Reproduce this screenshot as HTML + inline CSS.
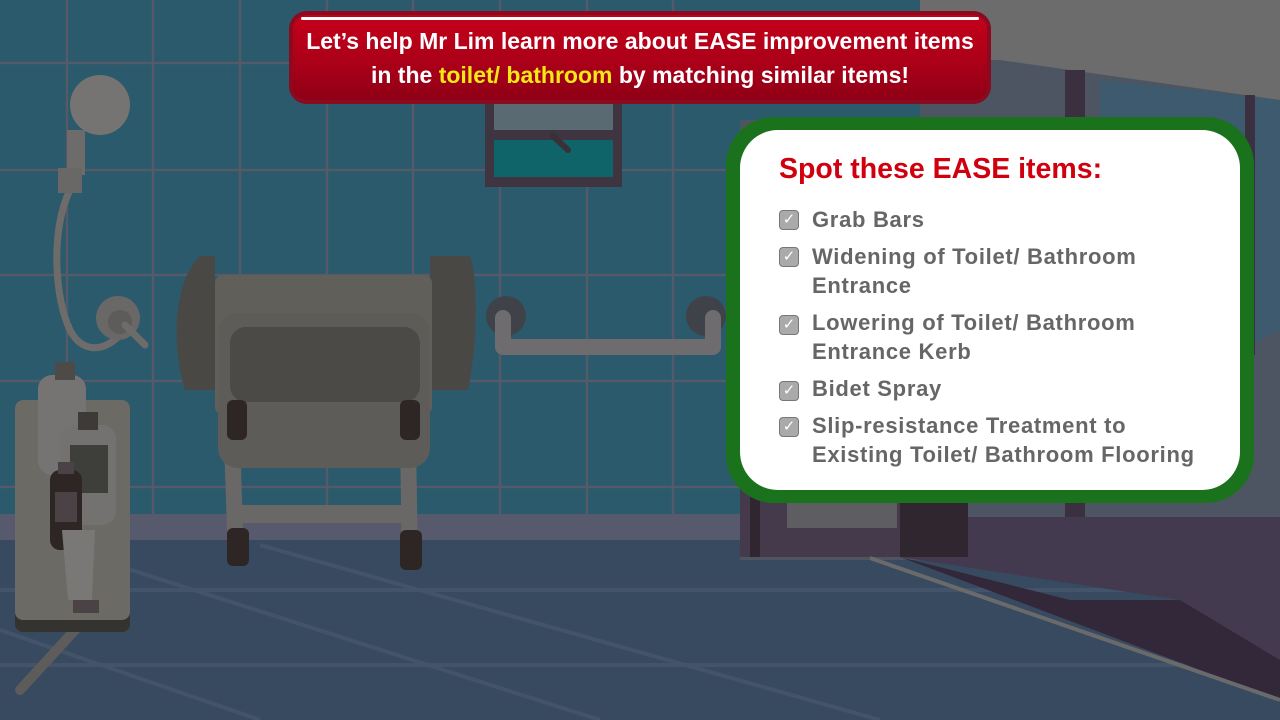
<!DOCTYPE html>
<html><head><meta charset="utf-8"><style>
html,body{margin:0;padding:0;width:1280px;height:720px;overflow:hidden;background:#2a5a6b}
#scene{position:absolute;left:0;top:0}
.banner{position:absolute;left:289px;top:11px;width:702px;height:93px;border-radius:18px;background:linear-gradient(#c8001a,#a80018 60%,#8c0016);box-shadow:inset 0 0 0 4px #8a0a20;font-family:"Liberation Sans",sans-serif;font-weight:bold;color:#fff;text-align:center;font-size:23px;line-height:34px;padding-top:13px;box-sizing:border-box;white-space:nowrap}
.banner .hl{color:#f6e816}
.banner:before{content:"";position:absolute;left:12px;right:12px;top:6px;height:3px;background:#fff;border-radius:3px}
.panel{position:absolute;left:726px;top:117px;width:528px;height:386px;border-radius:48px;background:#1b721d}
.panel .inner{position:absolute;left:14px;top:13px;right:14px;bottom:13px;background:#fff;border-radius:38px}
.title{position:absolute;left:779px;top:153px;font-family:"Liberation Sans",sans-serif;font-weight:bold;font-size:28.5px;color:#d0000f;white-space:nowrap}
.item{position:absolute;left:812px;font-family:"Liberation Sans",sans-serif;font-weight:bold;font-size:22px;letter-spacing:0.7px;line-height:29px;color:#666;white-space:nowrap}
.cb{position:absolute;left:779px;width:20px;height:20px;border:1.5px solid #777;border-radius:4px;background:#aaa;box-sizing:border-box;color:#fff;font-size:15px;line-height:17px;text-align:center;font-family:"DejaVu Sans",sans-serif}
</style></head><body>
<svg id="scene" width="1280" height="720" viewBox="0 0 1280 720">
<rect width="1280" height="720" fill="#2a5a6b"/>
<g stroke="#555a6a" stroke-width="2.5">
<line x1="67" y1="0" x2="67" y2="515"/><line x1="153" y1="0" x2="153" y2="515"/><line x1="240" y1="0" x2="240" y2="515"/><line x1="327" y1="0" x2="327" y2="515"/><line x1="413" y1="0" x2="413" y2="515"/><line x1="500" y1="0" x2="500" y2="515"/><line x1="587" y1="0" x2="587" y2="515"/><line x1="673" y1="0" x2="673" y2="515"/>
<line x1="0" y1="63" x2="740" y2="63"/><line x1="0" y1="170" x2="740" y2="170"/><line x1="0" y1="275" x2="740" y2="275"/><line x1="0" y1="381" x2="740" y2="381"/><line x1="0" y1="487" x2="740" y2="487"/>
</g>
<rect x="0" y="514" width="760" height="26" fill="#575a6c"/>
<rect x="0" y="540" width="1280" height="180" fill="#374a60"/>
<g stroke="#43546a" stroke-width="4">
<line x1="0" y1="590" x2="1280" y2="590"/><line x1="0" y1="665" x2="1280" y2="665"/>
<line x1="100" y1="560" x2="600" y2="720"/><line x1="260" y1="545" x2="880" y2="720"/><line x1="0" y1="630" x2="260" y2="720"/>
</g>
<rect x="920" y="0" width="360" height="560" fill="#4e5562"/>
<rect x="740" y="120" width="180" height="440" fill="#4e5562"/>
<polygon points="920,0 1280,0 1280,100 1000,60 920,60" fill="#6c6c6c"/>
<polygon points="1100,80 1280,100 1280,330 1100,420" fill="#3e5a6e"/>
<rect x="1065" y="70" width="20" height="450" fill="#3a3040"/>
<rect x="1245" y="95" width="10" height="260" fill="#3a3040"/>
<rect x="740" y="480" width="228" height="77" fill="#443a4c"/>
<rect x="787" y="490" width="110" height="38" fill="#5e5e62"/>
<rect x="750" y="480" width="10" height="77" fill="#30262f"/>
<rect x="900" y="480" width="68" height="77" fill="#30262f"/>
<polygon points="968,517 1280,517 1280,680 1180,600 900,557 968,557" fill="#443a50"/>
<polygon points="900,557 1070,600 1180,600 1280,660 1280,700" fill="#33283a"/>
<line x1="870" y1="558" x2="1280" y2="700" stroke="#6a6a6a" stroke-width="4"/>
<rect x="485" y="95" width="137" height="92" fill="#3e3540"/>
<rect x="494" y="100" width="119" height="30" fill="#5a6a72"/>
<rect x="494" y="140" width="119" height="37" fill="#0e6468"/>
<line x1="552" y1="135" x2="568" y2="150" stroke="#3a3038" stroke-width="6" stroke-linecap="round"/>
<g>
<path d="M70 190 C50 230 55 300 70 330 C80 350 100 355 120 335" stroke="#6e6c6a" stroke-width="7" fill="none"/>
<ellipse cx="100" cy="105" rx="30" ry="30" fill="#767472"/>
<rect x="67" y="130" width="18" height="45" fill="#6e6c6a"/>
<rect x="58" y="168" width="24" height="25" fill="#6a6866"/>
<circle cx="118" cy="318" r="22" fill="#6a6866"/><circle cx="120" cy="322" r="12" fill="#5e5c5a"/>
<line x1="125" y1="325" x2="145" y2="345" stroke="#6e6c6a" stroke-width="7" stroke-linecap="round"/>
</g>
<g>
<line x1="20" y1="690" x2="75" y2="630" stroke="#5e5c5a" stroke-width="10" stroke-linecap="round"/>
<rect x="15" y="400" width="115" height="232" rx="8" fill="#34332f"/>
<rect x="15" y="400" width="115" height="220" rx="8" fill="#6b6a64"/>
<rect x="38" y="375" width="48" height="100" rx="14" fill="#767472"/><rect x="55" y="362" width="20" height="18" fill="#4e4a48"/>
<rect x="60" y="425" width="56" height="100" rx="14" fill="#747270"/><rect x="78" y="412" width="20" height="18" fill="#3e3a38"/>
<rect x="70" y="445" width="38" height="48" fill="#3e3e3a"/>
<rect x="50" y="470" width="32" height="80" rx="10" fill="#2e2624"/><rect x="58" y="462" width="16" height="12" fill="#4a4244"/>
<rect x="55" y="492" width="22" height="30" fill="#4a4244"/>
<path d="M62 530 L95 530 L92 600 L68 600 Z" fill="#7a7876"/><rect x="73" y="600" width="26" height="13" fill="#4a4244"/>
</g>
<g>
<path d="M200 256 L215 256 L215 390 L185 390 C170 340 175 280 200 256Z" fill="#4a4844"/>
<path d="M470 256 L430 256 L430 390 L468 390 C478 340 478 280 470 256Z" fill="#4a4844"/>
<line x1="232" y1="440" x2="236" y2="560" stroke="#6a6866" stroke-width="16"/>
<line x1="408" y1="440" x2="410" y2="565" stroke="#6a6866" stroke-width="16"/>
<rect x="240" y="505" width="170" height="18" fill="#6a6866"/>
<rect x="227" y="528" width="22" height="38" rx="6" fill="#2e2624"/><rect x="400" y="530" width="22" height="40" rx="6" fill="#2e2624"/>
<rect x="215" y="275" width="217" height="140" rx="8" fill="#615f5a"/>
<rect x="218" y="313" width="212" height="155" rx="20" fill="#5e5c58"/>
<rect x="230" y="327" width="190" height="75" rx="16" fill="#4c4a47"/>
<rect x="227" y="400" width="20" height="40" rx="6" fill="#2e2624"/><rect x="400" y="400" width="20" height="40" rx="6" fill="#2e2624"/>
</g>
<g>
<circle cx="506" cy="316" r="20" fill="#40424a"/><circle cx="706" cy="316" r="20" fill="#40424a"/>
<path d="M503 318 L503 347 L713 347 L713 318" stroke="#6e6c6e" stroke-width="16" fill="none" stroke-linejoin="round" stroke-linecap="round"/>
</g>
</svg>
<div class="banner">Let’s help Mr Lim learn more about EASE improvement items<br>in the <span class="hl">toilet/ bathroom</span> by matching similar items!</div>
<div class="panel"><div class="inner"></div></div>
<div class="title">Spot these EASE items:</div>
<div class="cb" style="top:210px">✓</div>
<div class="item" style="top:205px">Grab Bars</div>
<div class="cb" style="top:247px">✓</div>
<div class="item" style="top:242px">Widening of Toilet/ Bathroom<br>Entrance</div>
<div class="cb" style="top:315px">✓</div>
<div class="item" style="top:308px">Lowering of Toilet/ Bathroom<br>Entrance Kerb</div>
<div class="cb" style="top:381px">✓</div>
<div class="item" style="top:374px">Bidet Spray</div>
<div class="cb" style="top:417px">✓</div>
<div class="item" style="top:411px">Slip-resistance Treatment to<br>Existing Toilet/ Bathroom Flooring</div>
</body></html>
